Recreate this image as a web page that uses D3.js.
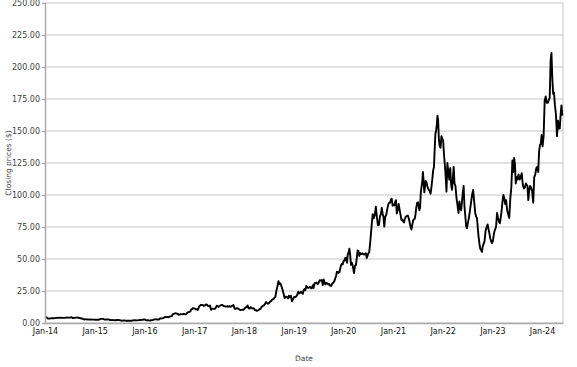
<!DOCTYPE html>
<html>
<head>
<meta charset="utf-8">
<script src="https://cdn.jsdelivr.net/npm/d3@7"></script>
<style>
  body { margin: 0; background: #fff; }
  svg { display: block; }
  text { font-family: "DejaVu Sans", sans-serif; }
</style>
</head>
<body>
<svg id="chart" width="577" height="367"></svg>
<script>
// AMD closing prices, roughly weekly, one inner array per month
const c2014 = [
  [4.20,4.35,4.07,3.43,3.40],[3.55,3.62,3.66,3.69],[3.66,3.80,3.88,4.01],[4.13,4.00,4.12,4.02],
  [4.08,3.98,3.97,3.99],[4.18,4.30,4.20,4.22],[4.22,4.41,4.55,3.85,3.94],[3.99,4.09,4.19,4.24,4.30],
  [4.00,3.88,3.67,3.52],[3.35,3.05,2.72,2.80,2.88],[2.85,2.73,2.70,2.67],[2.85,2.60,2.61,2.65,2.67]
];
const c2015 = [
  [2.59,2.54,2.42,2.57,2.58],[2.72,3.10,3.20,3.22],[3.17,2.75,2.82,2.69],[2.72,2.80,2.84,2.28,2.30],
  [2.27,2.31,2.22,2.22,2.18],[2.15,2.36,2.42,2.38],[2.26,2.06,1.77,1.86,1.92],[2.00,1.84,1.80,1.74],
  [1.73,1.75,1.82,1.72],[1.86,2.13,2.07,2.10,2.12],[2.07,2.08,2.21,2.35],[2.39,2.48,2.55,2.85]
];
const c2016 = [
  [2.75,2.28,2.18,2.07,2.20],[2.00,1.90,2.14,2.21],[2.38,2.70,2.90,2.80,2.86],[2.75,2.60,2.65,3.55,3.55],
  [3.57,3.75,4.00,4.40],[4.75,4.55,4.82,4.53],[5.05,5.20,5.28,6.86],[7.07,7.52,7.58,7.36],
  [7.00,6.36,6.61,6.82,6.91],[6.93,6.84,7.01,7.02,6.75],[6.99,8.12,8.45,8.65],[9.05,10.56,10.85,11.60,11.34]
];
const c2017 = [
  [11.43,10.60,10.74,10.23],[12.28,13.53,14.06,14.12],[14.13,13.28,13.68,14.55],[14.27,13.40,13.12,13.62],
  [10.32,11.20,11.19,11.02],[11.23,12.12,13.60,13.42,12.48],[13.08,13.78,14.02,14.04],[13.23,13.20,12.81,12.92],
  [13.04,12.93,13.11,12.66],[13.34,13.40,14.10,11.84,10.99],[11.12,11.66,11.28,10.72],[10.19,10.21,10.38,10.28]
];
const c2018 = [
  [10.98,12.18,12.32,13.74],[11.62,11.28,12.29,12.04],[11.30,11.57,11.41,10.05,10.05],[9.53,9.73,10.00,10.88],
  [11.28,12.76,13.39,13.73],[14.80,16.34,15.64,14.99],[15.58,16.68,17.10,18.35],[18.49,19.64,20.33,25.17],
  [28.52,32.72,30.50,30.89],[28.56,25.99,22.71,19.27],[20.59,20.50,20.11,19.14,21.30],[20.09,21.31,16.93,18.46]
];
const c2019 = [
  [20.27,20.19,20.77,21.93],[24.51,23.05,23.68,24.36],[23.50,22.87,25.70,26.48,25.52],[29.02,27.70,27.49,27.88],
  [28.22,27.10,27.32,29.50,27.41],[31.14,31.00,31.58,30.37],[31.50,33.50,33.00,33.55],[29.70,33.97,31.79,30.10,31.45],
  [30.95,30.13,30.50,29.10],[29.00,30.70,31.48,32.71],[35.03,36.90,40.00,39.90,39.15],[39.69,42.59,45.30,46.18,45.86]
];
const c2020 = [
  [48.6,48.6,50.9,51.0,47.0],[53.9,55.0,58.0,53.1,45.5],[47.0,43.9,39.0,44.9],[45.4,50.8,56.6,56.3,52.4],
  [54.6,53.8,54.4,53.8],[53.4,54.0,54.4,50.8,52.6],[54.5,55.4,61.9,69.4,77.4],[85.0,81.8,84.5,90.8],
  [82.5,76.3,76.7,83.4],[85.0,90.0,85.6,82.8,75.3],[83.0,84.4,89.0,92.7],[94.0,94.0,96.5,97.0,91.7]
];
const c2021 = [
  [92.3,91.8,94.5,96.0,85.6],[88.4,93.0,88.6,84.5],[80.3,80.6,79.4,78.5,81.4],[83.0,83.6,84.0,81.6],
  [78.1,75.0,73.0,76.7,80.1],[81.2,81.3,85.5,90.9,93.9],[94.3,90.9,88.0,90.5,102.0,106.2],[110.0,118.0,111.0,102.0,107.0,111.0],
  [110.0,107.0,105.0,104.0,102.9],[101.0,106.0,112.0,119.0,122.0],[136.3,148.0,150.0,154.8,161.9,158.4],[143.6,138.0,137.0,146.0,143.9]
];
const c2022 = [
  [143.0,132.0,124.0,115.0,102.6],[125.0,118.0,112.0,121.0],[108.0,104.0,112.0,122.0,109.0],[107.0,98.0,92.0,86.0],
  [95.0,90.0,88.0,95.0,102.0],[107.0,91.0,84.0,76.0,74.0],[78.0,82.0,88.0,94.0],[100.0,104.0,95.0,86.0],
  [83.0,82.0,74.0,67.0,62.0],[58.0,57.0,55.5,60.0,62.0],[64.0,72.0,75.0,77.0],[73.0,70.0,66.0,64.0,62.5]
];
const c2023 = [
  [64.0,70.0,73.0,75.0],[86.0,82.0,79.0,78.0],[83.0,88.0,95.0,100.0,98.0],[93.0,96.0,88.0,85.0],
  [82.0,97.0,106.0,127.0],[118.0,129.0,124.0,109.0,114.0],[112.0,116.0,112.0,114.0],[117.0,108.0,105.0,106.0],
  [109.0,108.0,107.0,96.0,103.0],[107.0,106.0,103.0,94.0],[114.0,116.0,121.0,122.0],[118.0,134.0,139.0,140.0,147.0]
];
const c2024 = [
  [138.0,146.0,174.0,177.0],[172.0,172.0,174.0,176.0],[205.0,211.0,191.0,179.0,180.0],[170.0,163.0,146.0,158.0],
  [152.0,152.0,163.0,170.0,162.0]
];

const years = [2014, 2015, 2016, 2017, 2018, 2019, 2020, 2021, 2022, 2023, 2024];
const closesByYear = [c2014, c2015, c2016, c2017, c2018, c2019, c2020, c2021, c2022, c2023, c2024];
const yTicks = [0, 25, 50, 75, 100, 125, 150, 175, 200, 225, 250];
const xStart = new Date(2014, 0, 1), xEnd = new Date(2024, 5, 3);

// flatten into dated points, spread evenly within each month
const points = [];
closesByYear.forEach(function(months, yi) {
  months.forEach(function(vals, m) {
    const m0 = new Date(years[yi], m, 1), m1 = d3.timeMonth.offset(m0, 1);
    vals.forEach(function(v, i) {
      const t = m0.getTime() + (i + 0.5) / vals.length * (m1 - m0);
      points.push({ date: new Date(t), close: v });
    });
  });
});

const width = 577, height = 367;
const margin = { top: 3, right: 14, bottom: 44, left: 45 };
const svg = d3.select("#chart");

const x = d3.scaleTime().domain([xStart, xEnd]).range([margin.left, width - margin.right]);
const y = d3.scaleLinear().domain([0, 250]).range([height - margin.bottom, margin.top]);

// gridlines
svg.append("g")
  .selectAll("line")
  .data(yTicks)
  .join("line")
  .attr("x1", margin.left).attr("x2", width - margin.right)
  .attr("y1", d => y(d)).attr("y2", d => y(d))
  .attr("stroke", "#c4c4c4").attr("stroke-width", 1);

// right border
svg.append("line")
  .attr("x1", width - margin.right).attr("x2", width - margin.right)
  .attr("y1", margin.top).attr("y2", height - margin.bottom)
  .attr("stroke", "#c4c4c4");

// price line
const line = d3.line().x(d => x(d.date)).y(d => y(d.close));
svg.append("path")
  .datum(points)
  .attr("d", line)
  .attr("fill", "none")
  .attr("stroke", "#000")
  .attr("stroke-width", 1.9)
  .attr("stroke-linejoin", "round");

// y axis
const yAxis = svg.append("g")
  .attr("transform", "translate(" + margin.left + ",0)")
  .call(d3.axisLeft(y).tickValues(yTicks).tickFormat(d3.format(".2f")).tickSize(3).tickPadding(2));
yAxis.select(".domain").attr("stroke", "#aaa").attr("stroke-width", 1.5);
yAxis.selectAll(".tick line").attr("stroke", "#aaa");
yAxis.selectAll("text").attr("font-size", "8px").attr("fill", "#444").style("font-family", "DejaVu Sans");

// x axis
const xAxis = svg.append("g")
  .attr("transform", "translate(0," + (height - margin.bottom) + ")")
  .call(d3.axisBottom(x).tickValues(years.map(yr => new Date(yr, 0, 1)))
    .tickFormat(d3.timeFormat("%b-%y")).tickSize(0).tickPadding(5));
xAxis.select(".domain").attr("stroke", "#aaa").attr("stroke-width", 1.5);
xAxis.selectAll("text").attr("font-size", "8px").attr("fill", "#111").style("font-family", "DejaVu Sans");

// axis titles
svg.append("text")
  .attr("transform", "translate(11," + ((margin.top + height - margin.bottom) / 2) + ") rotate(-90)")
  .attr("text-anchor", "middle")
  .attr("font-size", "7.5px")
  .attr("fill", "#444")
  .text("Closing prices ($)");

svg.append("text")
  .attr("x", (margin.left + width - margin.right) / 2)
  .attr("y", 361)
  .attr("text-anchor", "middle")
  .attr("font-size", "7.5px")
  .attr("fill", "#444")
  .text("Date");
</script>
</body>
</html>
